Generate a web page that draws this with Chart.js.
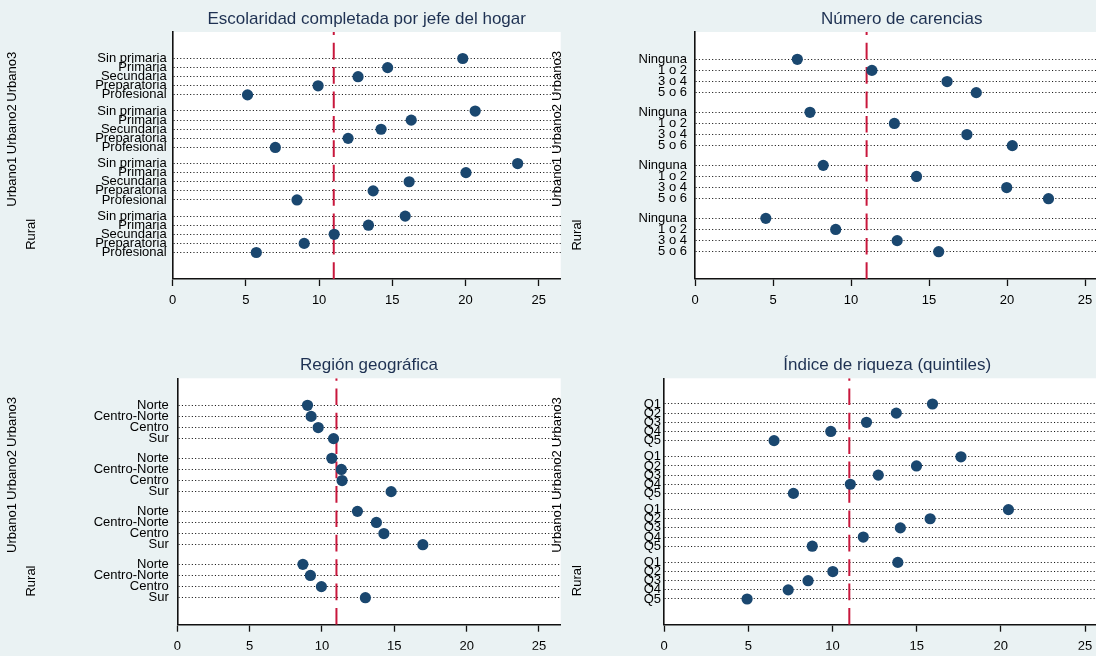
<!DOCTYPE html>
<html><head><meta charset="utf-8">
<script src="https://cdn.jsdelivr.net/npm/chart.js@4.4.1/dist/chart.umd.min.js"></script>
<style>
html,body{margin:0;padding:0;width:1096px;height:656px;overflow:hidden;background:#eaf2f3;}
canvas{position:absolute;left:0;top:0;}
</style></head><body>
<canvas id="c1" width="1120" height="680"></canvas>
<canvas id="c2" width="1120" height="680"></canvas>
<canvas id="c3" width="1120" height="680"></canvas>
<canvas id="c4" width="1120" height="680"></canvas>
<script>
// ---------- data ----------
const GROUPS = ['Urbano3', 'Urbano2', 'Urbano1', 'Rural'];
const REF_VALUE = 11;
const X_TICKS = [0, 5, 10, 15, 20, 25];

const ESC_TITLE = 'Escolaridad completada por jefe del hogar';
const ESC_CATS = ['Sin primaria', 'Primaria', 'Secundaria', 'Preparatoria', 'Profesional'];
const ESC_URBANO3 = [19.81, 14.68, 12.66, 9.93, 5.11];
const ESC_URBANO2 = [20.66, 16.29, 14.23, 11.98, 7.01];
const ESC_URBANO1 = [23.56, 20.03, 16.15, 13.69, 8.49];
const ESC_RURAL   = [15.88, 13.37, 11.03, 8.98, 5.71];

const CAR_TITLE = 'Número de carencias';
const CAR_CATS = ['Ninguna', '1 o 2', '3 o 4', '5 o 6'];
const CAR_URBANO3 = [6.56, 11.34, 16.16, 18.03];
const CAR_URBANO2 = [7.37, 12.78, 17.43, 20.34];
const CAR_URBANO1 = [8.22, 14.20, 19.98, 22.66];
const CAR_RURAL   = [4.54, 9.02, 12.96, 15.62];

const REG_TITLE = 'Región geográfica';
const REG_CATS = ['Norte', 'Centro-Norte', 'Centro', 'Sur'];
const REG_URBANO3 = [9.00, 9.25, 9.74, 10.80];
const REG_URBANO2 = [10.68, 11.34, 11.39, 14.78];
const REG_URBANO1 = [12.45, 13.76, 14.28, 16.97];
const REG_RURAL   = [8.68, 9.20, 9.96, 13.00];

const RIQ_TITLE = 'Índice de riqueza (quintiles)';
const RIQ_CATS = ['Q1', 'Q2', 'Q3', 'Q4', 'Q5'];
const RIQ_URBANO3 = [15.94, 13.79, 12.02, 9.90, 6.53];
const RIQ_URBANO2 = [17.63, 14.99, 12.72, 11.06, 7.68];
const RIQ_URBANO1 = [20.45, 15.80, 14.03, 11.83, 8.80];
const RIQ_RURAL   = [13.88, 10.02, 8.55, 7.37, 4.93];

// ---------- style / layout ----------
const FONT = '"Liberation Sans", Arial, Helvetica, sans-serif';
Chart.defaults.font.family = FONT;
const MARKER = '#1a476f';
const REFCOL = '#c8173c';
const TITLECOL = '#1e3152';
const GROUP_GAP = 0.77;
const X_MAX = 26.5;

const PANELS = [
  {id: 'c1', title: ESC_TITLE, cats: ESC_CATS, values: [ESC_URBANO3, ESC_URBANO2, ESC_URBANO1, ESC_RURAL],
   left: 172.7, top: 32, right: 560.7, bottom: 279, edge: 26.5, tickPad: 6, gx: [12, 31.5]},
  {id: 'c2', title: REG_TITLE, cats: REG_CATS, values: [REG_URBANO3, REG_URBANO2, REG_URBANO1, REG_RURAL],
   left: 177.3, top: 378.3, right: 560.7, bottom: 624.7, edge: 27, tickPad: 8.5, gx: [12.5, 31]},
  {id: 'c3', title: CAR_TITLE, cats: CAR_CATS, values: [CAR_URBANO3, CAR_URBANO2, CAR_URBANO1, CAR_RURAL],
   left: 695, top: 32, right: 1108.4, bottom: 279, edge: 27.3, tickPad: 8, gx: [557.7, 577.2]},
  {id: 'c4', title: RIQ_TITLE, cats: RIQ_CATS, values: [RIQ_URBANO3, RIQ_URBANO2, RIQ_URBANO1, RIQ_RURAL],
   left: 664.1, top: 378.3, right: 1110.3, bottom: 624.7, edge: 25.7, tickPad: 3, gx: [557.7, 577.2]}
];

function makePanel(cfg) {
  const canvas = document.getElementById(cfg.id);
  const W = canvas.width, H = canvas.height;
  const n = cfg.cats.length;
  const pos = (g, i) => g * (n + GROUP_GAP) + i;
  const tickPos = [], tickLab = [];
  GROUPS.forEach((g, gi) => cfg.cats.forEach((c, ci) => { tickPos.push(pos(gi, ci)); tickLab.push(c); }));
  const span = pos(GROUPS.length - 1, n - 1);
  const ph = cfg.bottom - cfg.top;
  const pad = cfg.edge * span / (ph - 2 * cfg.edge);
  const yMin = -pad, yMax = span + pad;
  const pts = [];
  cfg.values.forEach((arr, gi) => arr.forEach((v, ci) => pts.push({x: v, y: pos(gi, ci)})));
  const Y_W = 150, X_H = 25;

  const panelPlugin = {
    id: 'panelDeco',
    beforeDraw(chart) {
      const {ctx, chartArea: a} = chart;
      ctx.save();
      ctx.fillStyle = '#ffffff';
      ctx.fillRect(a.left, a.top, a.right - a.left, a.bottom - a.top);
      ctx.restore();
    },
    afterDraw(chart) {
      const {ctx, chartArea: a} = chart;
      const ys = chart.scales.y;
      ctx.save();
      ctx.fillStyle = TITLECOL;
      ctx.font = '17px ' + FONT;
      ctx.textAlign = 'center';
      ctx.textBaseline = 'middle';
      ctx.fillText(cfg.title, (a.left + a.right) / 2, a.top - 12.7);
      ctx.fillStyle = '#000';
      ctx.font = '13px ' + FONT;
      GROUPS.forEach((g, gi) => {
        const cy = ys.getPixelForValue((pos(gi, 0) + pos(gi, n - 1)) / 2);
        const gx = gi === GROUPS.length - 1 ? cfg.gx[1] : cfg.gx[0];
        ctx.save();
        ctx.translate(gx, cy);
        ctx.rotate(-Math.PI / 2);
        ctx.fillText(g, 0, 0);
        ctx.restore();
      });
      ctx.restore();
    }
  };

  return new Chart(canvas, {
    type: 'scatter',
    data: {
      datasets: [
        {data: pts, backgroundColor: MARKER, borderWidth: 0, pointRadius: 5.6, pointHoverRadius: 5.6, order: 1},
        {data: [{x: REF_VALUE, y: yMax}, {x: REF_VALUE, y: yMin}], showLine: true, borderColor: REFCOL,
         borderWidth: 2, borderDash: [16.7, 7.7], pointRadius: 0, order: 2}
      ]
    },
    options: {
      responsive: false, animation: false, devicePixelRatio: 1,
      layout: {autoPadding: false, padding: {left: cfg.left - Y_W, top: cfg.top, right: W - cfg.right, bottom: H - cfg.bottom - X_H}},
      plugins: {legend: {display: false}, tooltip: {enabled: false}, title: {display: false}},
      scales: {
        x: {
          type: 'linear', min: 0, max: X_MAX,
          afterBuildTicks: s => { s.ticks = X_TICKS.map(v => ({value: v})); },
          afterFit: s => { s.height = X_H; },
          grid: {drawOnChartArea: false, drawTicks: true, tickLength: 7, tickColor: '#111', tickWidth: 1.3},
          border: {display: true, color: '#111', width: 1.6},
          ticks: {color: '#000', font: {size: 13}, padding: 7, maxRotation: 0, autoSkip: false}
        },
        y: {
          type: 'linear', min: yMin, max: yMax, reverse: true,
          afterBuildTicks: s => { s.ticks = tickPos.map(v => ({value: v})); },
          afterFit: s => { s.width = Y_W; },
          grid: {drawOnChartArea: true, drawTicks: false, color: '#1a1a1a', lineWidth: 1.1},
          border: {display: true, color: '#111', width: 1.6, dash: [1.1, 2.2]},
          ticks: {color: '#000', font: {size: 13}, padding: cfg.tickPad, autoSkip: false,
                  callback: (v, i) => tickLab[i]}
        }
      }
    },
    plugins: [panelPlugin]
  });
}

PANELS.forEach(makePanel);
</script>
</body></html>
